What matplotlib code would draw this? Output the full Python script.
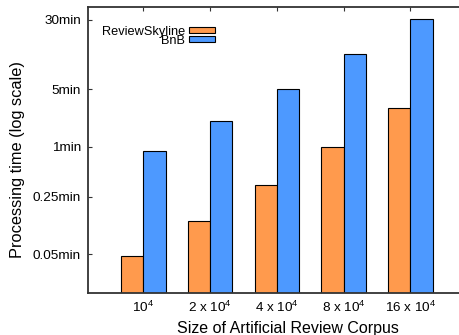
import numpy as np
import matplotlib
matplotlib.use('Agg')
from matplotlib import pyplot as plt
from matplotlib.ticker import NullLocator

plt.rcParams['font.family'] = ['Liberation Sans', 'DejaVu Sans']
plt.rcParams['mathtext.fontset'] = 'custom'
plt.rcParams['mathtext.rm'] = 'Liberation Sans'
plt.rcParams['mathtext.it'] = 'Liberation Sans'

# data (minutes)
corpus_sizes = ['10$^4$', '2 x 10$^4$', '4 x 10$^4$', '8 x 10$^4$', '16 x 10$^4$']
review_skyline = [0.048, 0.128, 0.35, 1.0, 2.94]
bnb = [0.89, 2.08, 5.08, 13.4, 35.9]
ytick_vals = [0.05, 0.25, 1, 5, 35]
ytick_labels = ['0.05min', '0.25min', '1min', '5min', '30min']

fig = plt.figure(figsize=(4.59, 3.35), dpi=100)
ax = fig.add_axes([88/459, (335-293.3)/335, (487-88)/459, (293.3-7)/335])

x = np.arange(len(corpus_sizes))
w = 1/3
ax.bar(x - w/2, review_skyline, w, color='#ff9a4d', edgecolor='black', linewidth=0.8, label='ReviewSkyline')
ax.bar(x + w/2, bnb, w, color='#4d99ff', edgecolor='black', linewidth=0.8, label='BnB')

ax.set_yscale('log')
ax.set_ylim(0.0168, 49.7)
ax.set_xlim(-0.83, 5.15)
ax.yaxis.set_minor_locator(NullLocator())
ax.set_yticks(ytick_vals)
ax.set_yticklabels(ytick_labels)
ax.set_xticks(x)
ax.set_xticklabels(corpus_sizes)
ax.tick_params(axis='y', direction='in', length=3, width=0.8, color='#333333', labelsize=9.7, pad=5)
ax.tick_params(axis='x', direction='in', length=3, width=0.8, color='#333333', labelsize=9.7, pad=5,
               top=True, bottom=False)

for side in ['left', 'bottom', 'top', 'right']:
    ax.spines[side].set_color('#333333')
    ax.spines[side].set_linewidth(1.3)

ax.set_xlabel('Size of Artificial Review Corpus', fontsize=11.5, labelpad=4)
fig.text(17.5/459, 1 - 160/335, 'Processing time (log scale)', rotation=90,
         ha='center', va='center', fontsize=11.8)

ax.legend(loc='upper right', bbox_to_anchor=(215/459, 1 - 26/335), bbox_transform=fig.transFigure,
          frameon=False, markerfirst=False, fontsize=9.2, borderpad=0, borderaxespad=0,
          handlelength=2.03, handleheight=0.36, handletextpad=0.31, labelspacing=-0.26)

fig.savefig('out.png', dpi=100)
